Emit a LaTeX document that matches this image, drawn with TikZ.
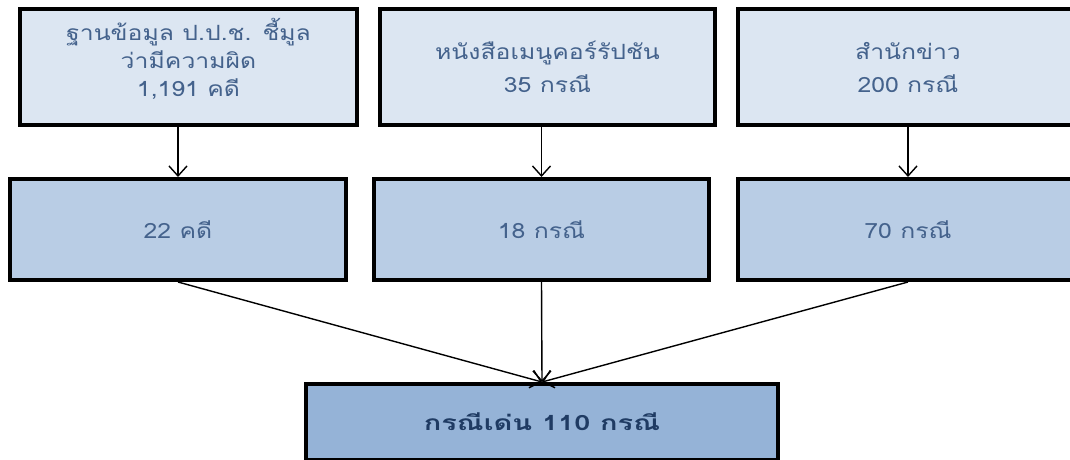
\documentclass[tikz,border=0pt]{standalone}
\usepackage{fontspec}
\setmainfont[Script=Thai,FakeStretch=1.18]{Loma}
\newfontfamily\botfont[Script=Thai,FakeStretch=1.38]{Loma}
\usetikzlibrary{arrows.meta}
\definecolor{fillA}{HTML}{DCE6F2}
\definecolor{fillB}{HTML}{B9CDE5}
\definecolor{fillC}{HTML}{95B3D7}
\definecolor{txtA}{HTML}{44628C}
\definecolor{txtC}{HTML}{1F3B63}
\tikzset{
  box/.style={draw=black, line width=4pt, rectangle, align=center, inner sep=0pt,
    font=\fontsize{21}{33}\selectfont, text=txtA},
  txt/.style={align=center, inner sep=0pt, font=\fontsize{21}{28}\selectfont, text=txtA},
  topbox/.style={box, fill=fillA, minimum height=116pt},
  midbox/.style={box, fill=fillB, minimum height=101pt},
  botbox/.style={box, fill=fillC, minimum height=76pt, text=txtC, font=\botfont\fontsize{21}{27}\selectfont\bfseries},
  conn/.style={draw=black, line width=1.4pt, -{Straight Barb[length=10pt,width=18pt,line width=1.4pt]}}
}
\begin{document}
\begin{tikzpicture}[x=1pt,y=-1pt]
\useasboundingbox (0,0) rectangle (1070,459);
\clip (0,0) rectangle (1070,459);
\node[topbox, minimum width=337pt] (t1) at (188.5,67) {};
\node[txt] (t1text) at ([yshift=8pt]t1.center) {ฐานข้อมูล ป.ป.ช. ชี้มูล\\ว่ามีความผิด\\1,191 คดี};
\node[topbox, minimum width=335pt] (t2) at (547.5,67) {หนังสือเมนูคอร์รัปชัน\\35 กรณี};
\node[topbox, minimum width=340pt] (t3) at (908,67) {สำนักข่าว\\200 กรณี};
\node[midbox, minimum width=336pt] (m1) at (178,229.5) {22 คดี};
\node[midbox, minimum width=335pt] (m2) at (541.5,229.5) {18 กรณี};
\node[midbox, minimum width=340pt] (m3) at (908,229.5) {70 กรณี};
\node[botbox, minimum width=472pt] (b) at (542,422) {กรณีเด่น 110 กรณี};
\draw[conn] (t1.south -| m1.north) -- (m1.north);
\draw[conn] (t2.south -| m2.north) -- (m2.north);
\draw[conn] (t3.south -| m3.north) -- (m3.north);
\draw[conn] (m1.south) -- (b.north);
\draw[conn] (m2.south) -- (b.north);
\draw[conn] (m3.south) -- (b.north);
\end{tikzpicture}
\end{document}
